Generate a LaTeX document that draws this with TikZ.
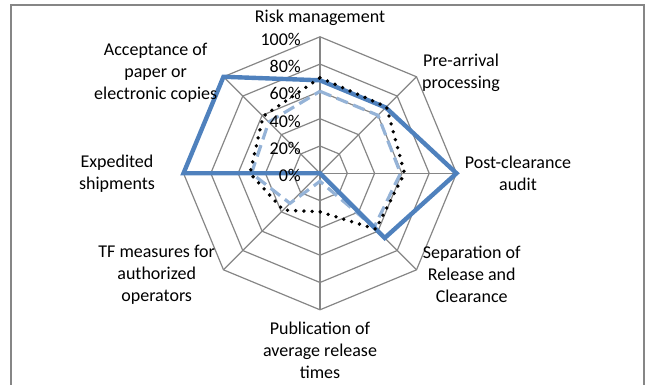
\documentclass[tikz,border=0pt]{standalone}
\usepackage{fontspec}
\setmainfont{Carlito}
\definecolor{gridgray}{HTML}{868686}
\definecolor{seriesdark}{HTML}{4F81BD}
\definecolor{serieslight}{HTML}{95B3D7}
\begin{document}
\begin{tikzpicture}[x=1pt,y=1pt,font=\fontsize{18}{22}\selectfont,
	gridline/.style={draw=gridgray,line width=1.2pt},
	axislabel/.style={align=center,inner sep=0pt},
	ticklabel/.style={anchor=east,inner sep=0pt}]
	\useasboundingbox (0,0) rectangle (646,385);
	\draw[gridgray,line width=1.6pt] (11,-10) rectangle (644,380);
	\begin{scope}[shift={(320,211.7)}]
		\coordinate (O) at (0,0);
		% rings and spokes
		\foreach \r in {1,...,5}
			\draw[gridline] (90:\r*27.3) \foreach \a in {45,0,...,-225}{ -- (\a:\r*27.3)} -- cycle;
		\foreach \a in {90,45,...,-225}
			\draw[gridline] (O) -- (\a:136.5);
		% series
		\draw[serieslight,line width=3.2pt,dash pattern=on 12pt off 6pt]
			(90:82) -- (45:82) -- (0:80.5) -- (-45:76.5) -- (-90:8) -- (-135:42.5) -- (180:68.5) -- (135:72.5) -- cycle;
		\draw[seriesdark,line width=4.4pt,line join=miter]
			(90:93) -- (45:93) -- (0:136.5) -- (-45:91.5) -- (O) -- (180:136.5) -- (135:136.5) -- cycle;
		\draw[black,line width=3.8pt,line cap=round,dash pattern=on 0pt off 8.2pt]
			(90:95.5) -- (45:94) -- (0:84.5) -- (-45:79) -- (-90:38.5) -- (-135:52) -- (180:70) -- (135:80.5) -- cycle;
		% tick labels
		\foreach \k/\t in {0/0\%,1/20\%,2/40\%,3/60\%,4/80\%,5/100\%}
			\node[ticklabel] (tick\k) at (-19,\k*27.3-2.5) {\t};
	\end{scope}
	% axis labels
	\node[axislabel] (risk) at (320,366.7) {Risk management};
	\node[axislabel] (prearrival) at (461,312.1) {Pre-arrival\\processing};
	\node[axislabel] (postclear) at (518,212) {Post-clearance\\audit};
	\node[axislabel] (separation) at (471.7,111) {Separation of\\Release and\\Clearance};
	\node[axislabel] (publication) at (320,34.4) {Publication of\\average release\\times};
	\node[axislabel] (tfmeasures) at (156.7,110.5) {TF measures for\\authorized\\operators};
	\node[axislabel] (expedited) at (117,211.5) {Expedited\\shipments};
	\node[axislabel] (acceptance) at (155.7,311.8) {Acceptance of\\paper or\\electronic copies};
\end{tikzpicture}
\end{document}
